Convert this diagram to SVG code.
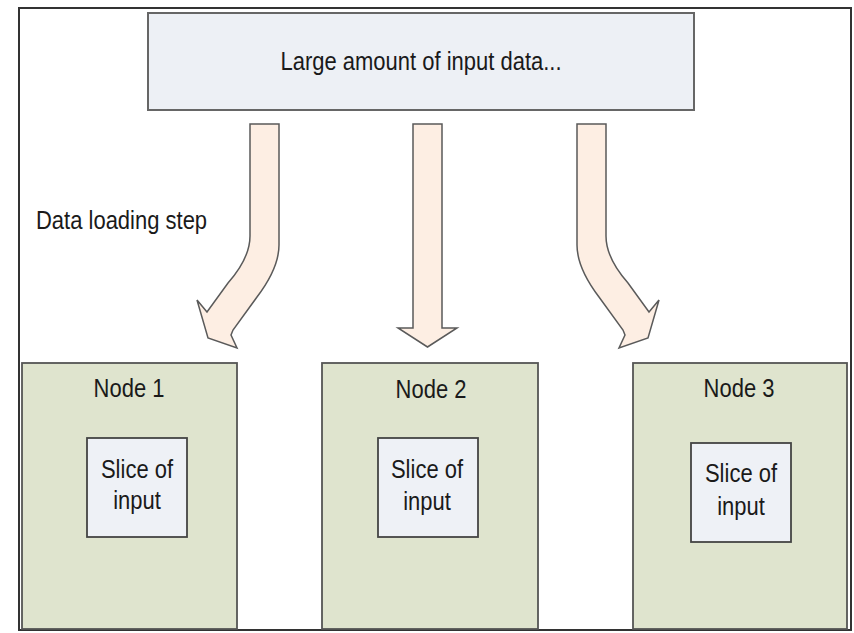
<svg xmlns="http://www.w3.org/2000/svg" width="854" height="633" viewBox="0 0 854 633">
<style>
.frame{fill:#ffffff;stroke:#333333;stroke-width:2}
.top{fill:#edf0f5;stroke:#666666;stroke-width:2}
.node{fill:#dfe4ce;stroke:#555555;stroke-width:1.8}
.slice{fill:#eef1f6;stroke:#444444;stroke-width:1.8}
.arrow{fill:#fdeee3;stroke:#5a5a5a;stroke-width:1.5;stroke-linejoin:miter}
text{font-family:"Liberation Sans",Arial,sans-serif;font-size:22px;fill:#1a1a1a}
.c{text-anchor:middle}
</style>
<defs>
<path id="bentArrow" d="M250,124 L250,236 Q250,258 228,283 L207,312 L197,300 L208,338 L237,348 L231,335 L233,330 L257,297 Q279,268 279,245 L279,124 Z"/>
</defs>
<rect class="frame" x="19" y="8" width="832" height="622"/>
<g id="input-data">
<rect class="top" x="148" y="13" width="546" height="97"/>
<text class="c" transform="translate(421,70) scale(1,1.18)">Large amount of input data...</text>
</g>
<g id="step-label">
<text transform="translate(36,229) scale(1,1.15)">Data loading step</text>
</g>
<g id="connectors">
<use href="#bentArrow" class="arrow"/>
<path class="arrow" d="M413,124 L413,328 L398,328 L427.5,347 L457,328 L442,328 L442,124 Z"/>
<use href="#bentArrow" class="arrow" transform="matrix(-1 0 0 1 856 0)"/>
</g>
<g id="node1">
<rect class="node" x="22" y="363" width="215" height="266"/>
<text class="c" transform="translate(129,397) scale(1,1.2)">Node 1</text>
<rect class="slice" x="87" y="438" width="100" height="99"/>
<text class="c" transform="translate(137,478) scale(1,1.2)">Slice of</text>
<text class="c" transform="translate(137,509) scale(1,1.2)">input</text>
</g>
<g id="node2">
<rect class="node" x="322" y="363" width="216" height="266"/>
<text class="c" transform="translate(431,398) scale(1,1.2)">Node 2</text>
<rect class="slice" x="378" y="438" width="100" height="99"/>
<text class="c" transform="translate(427,478) scale(1,1.2)">Slice of</text>
<text class="c" transform="translate(427,510) scale(1,1.2)">input</text>
</g>
<g id="node3">
<rect class="node" x="633" y="363" width="214" height="266"/>
<text class="c" transform="translate(739,397) scale(1,1.2)">Node 3</text>
<rect class="slice" x="691" y="443" width="100" height="99"/>
<text class="c" transform="translate(741,482) scale(1,1.2)">Slice of</text>
<text class="c" transform="translate(741,515) scale(1,1.2)">input</text>
</g>
</svg>
